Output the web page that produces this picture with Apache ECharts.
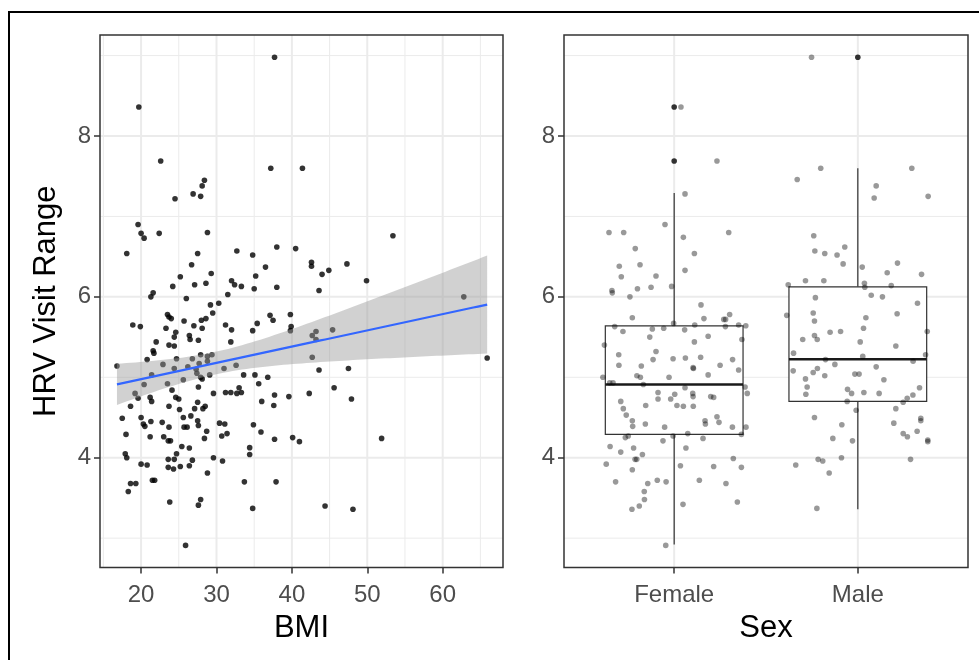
<!DOCTYPE html>
<html>
<head>
<meta charset="utf-8">
<script src="https://cdn.jsdelivr.net/npm/echarts@6/dist/echarts.min.js"></script>
<style>
  html, body { margin: 0; padding: 0; background: #ffffff; }
  #chart { width: 979px; height: 660px; }
</style>
</head>
<body>
<div id="chart"></div>
<script>
// ---- Data -------------------------------------------------------------
// Left panel: one point per participant (BMI, HRV visit range)
const bmi = [
  19.7, 37.7, 22.6, 37.2, 28.4, 28.1, 26.9, 27.9, 24.5, 19.6, 20.0, 20.4, 22.4, 28.8, 18.1, 27.5, 32.7, 34.8, 38.0, 40.5,
  26.7, 36.5, 25.2, 29.3, 35.2, 24.2, 27.1, 28.6, 32.0, 32.4, 33.3, 35.0, 38.0, 21.6, 21.3, 26.0, 31.5,
  41.4, 53.4, 42.6, 42.6, 44.0, 44.9, 47.3, 43.6, 49.9, 62.8,
  43.2, 42.7, 43.2, 45.4, 42.7, 43.6, 47.5, 65.9, 42.3, 45.6, 47.9, 51.9, 44.4, 48.1,
  29.2, 30.3, 23.5, 23.7, 24.0, 29.5, 28.6, 28.0, 37.1, 37.5, 39.8, 18.9, 19.9, 25.7, 27.0, 31.2, 32.0, 28.1, 23.3, 35.4,
  34.8, 39.9, 39.8, 24.6, 24.4, 26.4, 26.5, 27.6, 31.9, 22.0, 23.7, 24.4, 21.6, 21.7, 20.8, 24.7, 26.8, 27.9, 28.8, 29.4,
  22.9, 24.4, 26.2, 27.7, 28.8, 16.8, 21.4, 20.4, 23.5, 25.6, 27.3, 27.4, 27.9, 28.1, 29.1, 31.0, 32.6, 33.6, 35.1, 35.6,
  36.8, 19.2, 19.6, 18.6, 21.2, 21.4, 24.1, 24.6, 25.0, 27.6, 29.6, 31.2, 31.9, 32.7, 33.0, 33.3, 36.0, 37.7, 37.6, 39.6,
  17.5, 20.0, 20.3, 20.5, 21.3, 22.8, 23.7, 23.7, 25.1, 25.6, 26.6, 27.1, 27.5, 28.2, 28.5, 27.5, 27.6, 28.7, 30.4, 31.1,
  34.9, 35.9, 18.0, 21.2, 23.0, 23.6, 23.9, 25.7, 26.1, 28.4, 30.7, 31.4, 37.7, 40.1, 41.0, 17.9, 18.1, 25.4, 24.7, 26.4,
  23.6, 24.4, 26.8, 29.6, 30.8, 34.4, 34.4, 20.0, 20.8, 23.6, 24.3, 25.2, 26.4, 28.8, 18.6, 19.3, 18.3, 21.5, 21.8, 33.7,
  37.9, 23.8, 27.9, 27.6, 34.8, 25.9
];
const hrv = [
  8.36, 8.98, 7.69, 7.60, 7.45, 7.38, 7.28, 7.25, 7.22, 6.90, 6.79, 6.73, 6.79, 6.80, 6.54, 6.54, 6.57, 6.52, 6.62, 6.60,
  6.40, 6.37, 6.25, 6.29, 6.26, 6.13, 6.15, 6.17, 6.20, 6.15, 6.13, 6.10, 6.12, 6.05, 6.00, 5.98, 6.03,
  7.60, 6.76, 6.43, 6.38, 6.28, 6.33, 6.41, 6.08, 6.20, 6.00,
  5.57, 5.52, 5.47, 5.59, 5.25, 5.09, 5.11, 5.24, 4.80, 4.87, 4.73, 4.24, 3.40, 3.36,
  5.90, 5.92, 5.78, 5.75, 5.73, 5.80, 5.73, 5.71, 5.77, 5.71, 5.78, 5.65, 5.63, 5.70, 5.64, 5.65, 5.59, 5.61, 5.61, 5.67,
  5.58, 5.63, 5.58, 5.56, 5.50, 5.52, 5.47, 5.46, 5.44, 5.44, 5.40, 5.39, 5.33, 5.30, 5.22, 5.23, 5.23, 5.28, 5.26, 5.28,
  5.16, 5.11, 5.13, 5.17, 5.20, 5.14, 5.03, 4.91, 4.92, 4.97, 5.10, 5.05, 5.00, 4.98, 5.03, 5.11, 5.15, 5.03, 5.03, 4.92,
  5.00, 4.80, 4.74, 4.64, 4.75, 4.70, 4.84, 4.75, 4.73, 4.88, 4.80, 4.81, 4.81, 4.80, 4.87, 4.81, 4.70, 4.78, 4.65, 4.76,
  4.49, 4.50, 4.42, 4.39, 4.45, 4.44, 4.64, 4.38, 4.60, 4.50, 4.52, 4.61, 4.69, 4.61, 4.64, 4.46, 4.40, 4.33, 4.43, 4.42,
  4.41, 4.32, 4.29, 4.26, 4.26, 4.21, 4.21, 4.38, 4.38, 4.24, 4.27, 4.30, 4.23, 4.25, 4.20, 4.05, 4.00, 4.14, 4.05, 4.12,
  3.98, 3.98, 3.97, 4.00, 3.96, 4.125, 4.04, 3.92, 3.91, 3.88, 3.86, 3.89, 3.90, 3.81, 3.68, 3.68, 3.58, 3.72, 3.72, 3.70,
  3.70, 3.45, 3.48, 3.41, 3.37, 2.91
];

// Right panel: HRV by sex, with horizontal jitter (in category units)
const sexLevels = ['Female', 'Male'];
const femaleHRV = [
  8.36, 7.69, 7.28, 6.90, 6.80, 6.80, 6.80, 6.74, 6.60, 6.54, 6.38, 6.40, 6.33, 6.25, 6.26, 6.08, 6.05, 6.10, 6.12, 6.13, 6.00,
  5.90, 5.74, 5.73, 5.72, 5.72, 5.78, 5.63, 5.57, 5.60, 5.61, 5.67, 5.59, 5.65, 5.63, 5.65, 5.64, 5.50, 5.44, 5.51, 5.47,
  5.40, 5.32, 5.28, 5.15, 5.22, 5.14, 5.23, 5.24, 5.25, 5.12, 5.11, 5.15, 5.22, 5.09, 5.03, 5.00, 5.02, 5.00, 5.00, 4.93,
  4.93, 4.91, 4.87, 4.88, 4.80, 4.81, 4.79, 4.80, 4.76, 4.76, 4.75, 4.70, 4.73, 4.73, 4.61, 4.65, 4.65, 4.64, 4.64, 4.53,
  4.46, 4.39, 4.42, 4.38, 4.46, 4.42, 4.51, 4.44, 4.38, 4.38, 4.25, 4.27, 4.27, 4.30, 4.24, 4.29, 4.14, 4.12, 4.21, 4.12,
  4.07, 4.04, 3.98, 3.98, 3.92, 3.85, 3.90, 3.89, 3.99, 3.88, 3.70, 3.68, 3.72, 3.70, 3.72, 3.68, 3.58, 3.48, 3.36, 3.40,
  3.42, 3.45, 2.91
];
const femaleJitter = [
  0.037, 0.233, 0.059, -0.050, -0.355, -0.275, 0.297, 0.050, -0.212, 0.110, -0.299, -0.186, 0.059, -0.288, -0.099, -0.339, -0.337, -0.200, -0.126, -0.014, -0.241,
  0.146, -0.228, 0.162, 0.270, 0.280, 0.302, -0.324, -0.279, -0.119, -0.057, -0.003, 0.057, 0.112, 0.279, 0.351, 0.390, -0.133, 0.110, 0.185, 0.369,
  -0.380, -0.099, -0.302, -0.301, -0.115, -0.179, -0.006, 0.061, 0.144, 0.103, 0.105, 0.250, 0.318, 0.351, 0.185, -0.388, -0.203, -0.184, -0.028, -0.351,
  -0.333, -0.168, 0.059, 0.386, 0.398, -0.088, 0.003, 0.101, 0.103, 0.199, 0.215, -0.291, -0.088, -0.019, -0.277, -0.155, 0.015, 0.050, 0.104, -0.261,
  -0.228, -0.226, -0.157, -0.052, 0.168, 0.170, 0.233, 0.244, 0.317, 0.391, -0.266, -0.250, -0.006, 0.074, 0.157, 0.366, -0.349, -0.221, -0.061, 0.064,
  -0.291, -0.173, -0.213, -0.204, -0.370, -0.228, 0.034, 0.215, 0.322, 0.366, -0.319, -0.144, -0.092, -0.044, 0.137, 0.282, -0.163, -0.162, -0.230, -0.190,
  0.048, 0.344, -0.046
];
const maleHRV = [
  8.98, 7.60, 7.60, 7.46, 7.38, 7.23, 7.25, 6.76, 6.57, 6.54, 6.52, 6.62, 6.41, 6.37, 6.42, 6.30, 6.28, 6.15, 6.20, 6.20,
  6.17, 6.12, 6.14, 6.02, 6.00, 5.99,
  5.92, 5.77, 5.80, 5.70, 5.74, 5.79, 5.47, 5.52, 5.47, 5.56, 5.57, 5.61, 5.44, 5.39, 5.57, 5.30, 5.26, 5.28, 5.22, 5.16,
  5.20, 5.08, 5.06, 5.11, 5.02, 4.98, 4.88, 4.79, 5.04, 5.04, 5.13, 4.97, 4.85, 4.80, 4.81, 4.80, 4.87, 4.78, 4.74, 4.69,
  4.70, 4.61, 4.59, 4.50, 4.41, 4.43, 4.49, 4.46, 4.30, 4.26, 4.33, 4.24, 4.21, 4.22, 4.20, 3.91, 3.98, 3.96, 4.00, 3.98,
  3.81, 3.37
];
const maleJitter = [
  -0.252, -0.202, 0.294, -0.330, 0.100, 0.089, 0.383, -0.240, -0.234, -0.180, -0.113, -0.071, -0.080, 0.024, 0.216, 0.160, 0.347, -0.379, -0.285, -0.185,
  0.036, 0.038, 0.182, 0.073, 0.134, -0.231,
  0.325, -0.387, -0.243, -0.236, 0.044, 0.214, -0.300, -0.236, -0.221, -0.151, -0.094, 0.031, 0.013, 0.207, 0.378, -0.350, 0.027, 0.369, -0.176, -0.125,
  0.301, -0.352, -0.243, -0.220, -0.180, -0.285, -0.276, -0.283, -0.016, 0.007, 0.100, 0.142, -0.056, -0.034, 0.033, 0.116, 0.336, 0.300, 0.269, 0.247,
  -0.058, 0.207, -0.009, -0.236, -0.087, 0.196, 0.343, 0.343, 0.247, 0.270, 0.323, -0.136, -0.029, 0.381, 0.381, -0.338, -0.216, -0.191, -0.089, 0.287,
  -0.156, -0.223
];

// Boxplot summaries per sex: [lower whisker, Q1, median, Q3, upper whisker]
const boxStats = [
  [2.92, 4.29, 4.91, 5.64, 7.29],
  [3.36, 4.70, 5.225, 6.125, 7.60]
];
const outlierSex = [1, 1, 2];
const outlierHRV = [8.36, 7.69, 8.98];

// Axis ticks
const bmiTicks = [20, 30, 40, 50, 60];
const bmiMinor = [15, 25, 35, 45, 55, 65];
const hrvTicks = [4, 6, 8];
const hrvMinor = [3, 5, 7, 9];
const sexTicks = [1, 2];

// ---- Layout / style ----------------------------------------------------
const FONT = "'Liberation Sans', Arial, Helvetica, sans-serif";
const Y_MIN = 2.635, Y_MAX = 9.256;
const BMI_MIN = 14.55, BMI_MAX = 68.0;
const SEX_MIN = 0.4, SEX_MAX = 2.6;
const gridL = { left: 100, top: 35, width: 403, height: 532.5 };
const gridR = { left: 564, top: 35, width: 404, height: 532.5 };
const BORDER = '#333333';
const GRID_COL = '#EBEBEB';
const PT = 5.6;

// ---- Linear fit with 95% confidence band (as geom_smooth(method = "lm")) ----
function linearFit(xs, ys) {
  const n = xs.length;
  const mx = xs.reduce((a, b) => a + b, 0) / n;
  const my = ys.reduce((a, b) => a + b, 0) / n;
  let sxx = 0, sxy = 0;
  for (let i = 0; i < n; i++) { sxx += (xs[i] - mx) ** 2; sxy += (xs[i] - mx) * (ys[i] - my); }
  const b1 = sxy / sxx, b0 = my - b1 * mx;
  let sse = 0;
  for (let i = 0; i < n; i++) sse += (ys[i] - (b0 + b1 * xs[i])) ** 2;
  const s = Math.sqrt(sse / (n - 2));
  return { n, mx, sxx, b0, b1, s };
}
const fit = linearFit(bmi, hrv);
const T975 = 1.971;
const xLo = Math.min(...bmi), xHi = Math.max(...bmi);
const fitPts = [];
for (let k = 0; k <= 80; k++) {
  const x = xLo + (xHi - xLo) * k / 80;
  const yhat = fit.b0 + fit.b1 * x;
  const se = fit.s * Math.sqrt(1 / fit.n + (x - fit.mx) ** 2 / fit.sxx);
  fitPts.push([x, yhat, yhat - T975 * se, yhat + T975 * se]);
}

// ---- Helpers ---------------------------------------------------------
function gridLines(xi, values, dir, width) {
  return {
    type: 'custom', xAxisIndex: xi, yAxisIndex: xi, z: 1, silent: true, clip: false,
    data: values.map(v => dir === 'v' ? [v, 5] : [xi === 0 ? 30 : 1.5, v]),
    renderItem(params, api) {
      const cs = params.coordSys;
      if (dir === 'v') {
        const x = api.coord([api.value(0), api.value(1)])[0];
        return { type: 'line', shape: { x1: x, y1: cs.y, x2: x, y2: cs.y + cs.height },
                 style: { stroke: GRID_COL, lineWidth: width } };
      }
      const y = api.coord([api.value(0), api.value(1)])[1];
      return { type: 'line', shape: { x1: cs.x, y1: y, x2: cs.x + cs.width, y2: y },
               style: { stroke: GRID_COL, lineWidth: width } };
    }
  };
}

function xAxisCfg(gi, min, max, ticks, fmt) {
  return {
    type: 'value', gridIndex: gi, min, max,
    axisLine: { show: false },
    splitLine: { show: false },
    axisTick: { show: true, customValues: ticks, length: 6, lineStyle: { color: BORDER, width: 1.5 } },
    axisLabel: { show: true, customValues: ticks, margin: 16, color: '#4D4D4D', fontSize: 24,
                 fontFamily: FONT, formatter: fmt || (v => String(v)) }
  };
}
function yAxisCfg(gi) {
  return {
    type: 'value', gridIndex: gi, min: Y_MIN, max: Y_MAX,
    axisLine: { show: false },
    splitLine: { show: false },
    axisTick: { show: true, customValues: hrvTicks, length: 6, lineStyle: { color: BORDER, width: 1.5 } },
    axisLabel: { show: true, customValues: hrvTicks, margin: 9, color: '#4D4D4D', fontSize: 24,
                 fontFamily: FONT, formatter: v => String(v) }
  };
}

// ---- Chart -----------------------------------------------------------
const chart = echarts.init(document.getElementById('chart'), null, { renderer: 'canvas' });

const option = {
  animation: false,
  backgroundColor: '#ffffff',
  grid: [
    Object.assign({ show: false }, gridL),
    Object.assign({ show: false }, gridR)
  ],
  xAxis: [
    xAxisCfg(0, BMI_MIN, BMI_MAX, bmiTicks),
    xAxisCfg(1, SEX_MIN, SEX_MAX, sexTicks, v => sexLevels[Math.round(v) - 1])
  ],
  yAxis: [yAxisCfg(0), yAxisCfg(1)],
  series: [
    // panel grid lines
    gridLines(0, bmiMinor, 'v', 1),
    gridLines(0, hrvMinor, 'h', 1),
    gridLines(0, bmiTicks, 'v', 2),
    gridLines(0, hrvTicks, 'h', 2),
    gridLines(1, hrvMinor, 'h', 1),
    gridLines(1, sexTicks, 'v', 2),
    gridLines(1, hrvTicks, 'h', 2),

    // BMI scatter
    {
      type: 'scatter', xAxisIndex: 0, yAxisIndex: 0, z: 3, silent: true,
      symbol: 'circle', symbolSize: PT,
      itemStyle: { color: '#000000' },
      data: bmi.map((b, i) => [b, hrv[i]])
    },
    // confidence band
    {
      type: 'custom', xAxisIndex: 0, yAxisIndex: 0, z: 4, silent: true, clip: false,
      data: fitPts,
      renderItem(params, api) {
        if (params.dataIndex !== 0) return null;
        const upper = fitPts.map(p => api.coord([p[0], p[3]]));
        const lower = fitPts.map(p => api.coord([p[0], p[2]])).reverse();
        return { type: 'polygon', shape: { points: upper.concat(lower) },
                 style: { fill: 'rgba(153,153,153,0.45)' } };
      }
    },
    // fitted line
    {
      type: 'line', xAxisIndex: 0, yAxisIndex: 0, z: 5, silent: true,
      symbol: 'none', smooth: false,
      lineStyle: { color: '#3366FF', width: 2.2 },
      data: fitPts.map(p => [p[0], p[1]])
    },

    // boxplots
    {
      type: 'custom', xAxisIndex: 1, yAxisIndex: 1, z: 3, silent: true, clip: false,
      data: boxStats.map((s, i) => [i + 1].concat(s)),
      renderItem(params, api) {
        const c = api.value(0);
        const mn = api.value(1), q1 = api.value(2), md = api.value(3), q3 = api.value(4), mx = api.value(5);
        const hw = 0.375;
        const tl = api.coord([c - hw, q3]);
        const br = api.coord([c + hw, q1]);
        const xc = api.coord([c, md])[0];
        const yMed = api.coord([c, md])[1];
        const yMin = api.coord([c, mn])[1];
        const yMax = api.coord([c, mx])[1];
        const st = { stroke: BORDER, lineWidth: 1.2 };
        return {
          type: 'group',
          children: [
            { type: 'line', shape: { x1: xc, y1: yMax, x2: xc, y2: tl[1] }, style: st },
            { type: 'line', shape: { x1: xc, y1: br[1], x2: xc, y2: yMin }, style: st },
            { type: 'rect', shape: { x: tl[0], y: tl[1], width: br[0] - tl[0], height: br[1] - tl[1] },
              style: { fill: '#ffffff', stroke: BORDER, lineWidth: 1.2 } },
            { type: 'line', shape: { x1: tl[0], y1: yMed, x2: br[0], y2: yMed },
              style: { stroke: '#1a1a1a', lineWidth: 2.4 } }
          ]
        };
      }
    },
    // boxplot outliers
    {
      type: 'scatter', xAxisIndex: 1, yAxisIndex: 1, z: 4, silent: true,
      symbol: 'circle', symbolSize: PT, itemStyle: { color: '#000000' },
      data: outlierSex.map((s, i) => [s, outlierHRV[i]])
    },
    // jittered points
    {
      type: 'scatter', xAxisIndex: 1, yAxisIndex: 1, z: 5, silent: true,
      symbol: 'circle', symbolSize: PT, itemStyle: { color: 'rgba(0,0,0,0.5)' },
      data: femaleHRV.map((v, i) => [1 + femaleJitter[i], v])
        .concat(maleHRV.map((v, i) => [2 + maleJitter[i], v]))
    }
  ],
  graphic: [
    // outer frame
    { type: 'rect', z: 100, silent: true, shape: { x: 9, y: 12, width: 1000, height: 700 },
      style: { fill: 'none', stroke: '#000000', lineWidth: 2 } },
    // panel borders
    { type: 'rect', z: 100, silent: true,
      shape: { x: gridL.left, y: gridL.top, width: gridL.width, height: gridL.height },
      style: { fill: 'none', stroke: BORDER, lineWidth: 1.5 } },
    { type: 'rect', z: 100, silent: true,
      shape: { x: gridR.left, y: gridR.top, width: gridR.width, height: gridR.height },
      style: { fill: 'none', stroke: BORDER, lineWidth: 1.5 } },
    // axis titles
    { type: 'text', z: 100, silent: true, x: 46, y: gridL.top + gridL.height / 2, rotation: Math.PI / 2,
      style: { text: 'HRV Visit Range', font: "31px " + FONT, fill: '#000000', align: 'center', verticalAlign: 'middle' } },
    { type: 'text', z: 100, silent: true, x: gridL.left + gridL.width / 2, y: 628,
      style: { text: 'BMI', font: "31px " + FONT, fill: '#000000', align: 'center', verticalAlign: 'middle' } },
    { type: 'text', z: 100, silent: true, x: gridR.left + gridR.width / 2, y: 628,
      style: { text: 'Sex', font: "31px " + FONT, fill: '#000000', align: 'center', verticalAlign: 'middle' } }
  ]
};

chart.setOption(option);
</script>
</body>
</html>
